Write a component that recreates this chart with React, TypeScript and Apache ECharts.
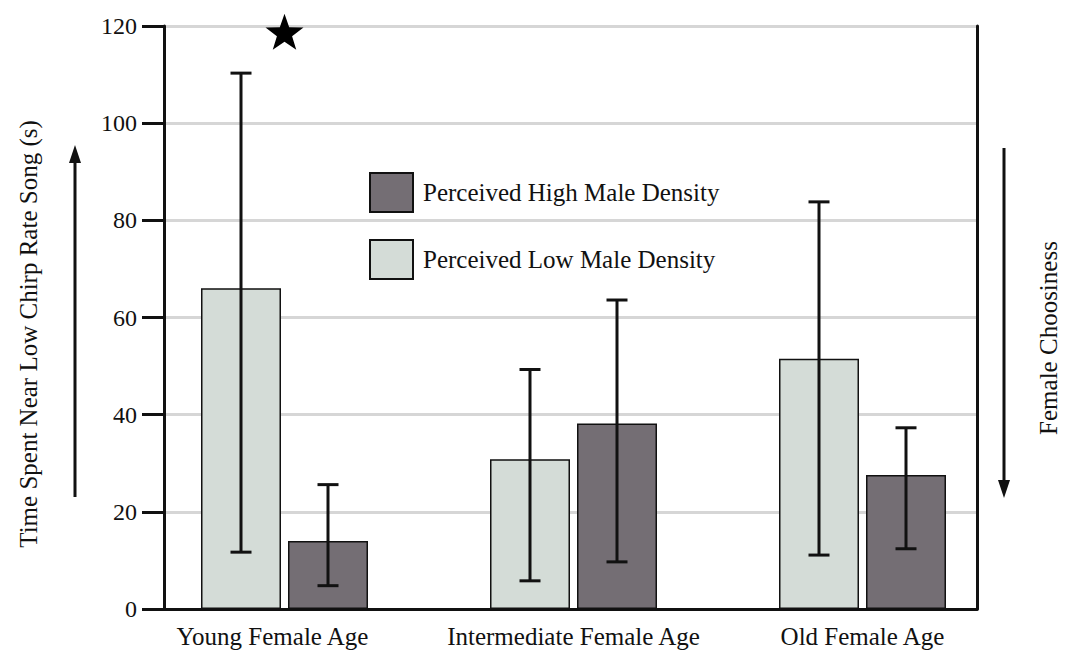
import React, { useEffect, useRef } from "react";
import * as echarts from "echarts";

const categories = ["Young Female Age", "Intermediate Female Age", "Old Female Age"];
const lowDensity = [66, 30.8, 51.5];
const highDensity = [14, 38.2, 27.6];
const lowErr = [[11.7, 110.3], [5.8, 49.3], [11.1, 83.8]];
const highErr = [[4.8, 25.6], [9.7, 63.6], [12.4, 37.3]];
const starMarks = [["Young Female Age", 118.8]];
const yTicks = [0, 20, 40, 60, 80, 100, 120];

const FONT = "'Liberation Serif', 'Times New Roman', serif";
const LIGHT = "#d4dcd7";
const DARK = "#746e74";
const STAR = "path://M0,-10 L2.35,-3.24 9.51,-3.09 3.8,1.24 5.88,8.09 0,4 -5.88,8.09 -3.8,1.24 -9.51,-3.09 -2.35,-3.24Z";

export default function App() {
  const ref = useRef<HTMLDivElement>(null);
  useEffect(() => {
    const chart = echarts.init(ref.current!, null, { renderer: "svg" });
    const BAR_W = 80;
    const GAP = 7;
    const errSeries = (name: string, errs: number[][], side: number) => ({
      type: "custom",
      name: name + " err",
      xAxisIndex: 1,
      yAxisIndex: 2,
      z: 5,
      data: errs.map((e, i) => [i, e[0], e[1]]),
      renderItem: (params: any, api: any) => {
        const idx = api.value(0);
        const lo = api.coord([idx, api.value(1)]);
        const hi = api.coord([idx, api.value(2)]);
        const x = lo[0] + side * (BAR_W + GAP) / 2;
        const cap = 10.5;
        const st = { stroke: "#111", lineWidth: 3 };
        return {
          type: "group",
          children: [
            { type: "line", shape: { x1: x, y1: lo[1], x2: x, y2: hi[1] }, style: st },
            { type: "line", shape: { x1: x - cap, y1: lo[1], x2: x + cap, y2: lo[1] }, style: st },
            { type: "line", shape: { x1: x - cap, y1: hi[1], x2: x + cap, y2: hi[1] }, style: st },
          ],
        };
      },
    });
    chart.setOption({
      animation: false,
      backgroundColor: "#fff",
      grid: [
        { left: 164, right: 88, top: 26, bottom: 45 },
        { left: 140, right: 58, top: 26, bottom: 45 },
      ],
      legend: {
        orient: "vertical",
        left: 369,
        top: 172,
        padding: 0,
        itemWidth: 43,
        itemHeight: 39,
        itemGap: 26,
        icon: "rect",
        data: ["Perceived High Male Density", "Perceived Low Male Density"],
        textStyle: { fontFamily: FONT, fontSize: 25, color: "#111", padding: [0, 0, 0, 5] },
      },
      xAxis: [
        {
          type: "category",
          gridIndex: 0,
          data: categories,
          axisLine: { show: true, lineStyle: { color: "#111", width: 3 } },
          axisTick: { show: false },
          axisLabel: { show: false },
          splitLine: { show: false },
        },
        {
          type: "category",
          gridIndex: 1,
          data: [
            { value: categories[0], textStyle: { padding: [0, 24, 0, 0] } },
            categories[1],
            categories[2],
          ],
          axisLine: { show: false },
          axisTick: { show: false },
          axisLabel: { fontFamily: FONT, fontSize: 25, color: "#111", margin: 15, interval: 0 },
        },
      ],
      yAxis: [
        {
          type: "value",
          gridIndex: 0,
          min: 0,
          max: 120,
          interval: 20,
          axisLine: { show: true, lineStyle: { color: "#111", width: 3 } },
          axisTick: { show: true, inside: false, length: 22, lineStyle: { color: "#111", width: 3 } },
          axisLabel: {
            fontFamily: FONT,
            fontSize: 24,
            color: "#111",
            margin: 27,
            formatter: (v: number) => (yTicks.includes(v) ? String(v) : ""),
          },
          splitLine: { show: true, lineStyle: { color: "#d6d6d6", width: 3 } },
        },
        {
          type: "value",
          gridIndex: 0,
          position: "right",
          min: 0,
          max: 120,
          interval: 20,
          axisLine: { show: true, lineStyle: { color: "#111", width: 3 } },
          axisTick: { show: false },
          axisLabel: { show: false },
          splitLine: { show: false },
        },
        {
          type: "value",
          gridIndex: 1,
          min: 0,
          max: 120,
          show: false,
        },
      ],
      series: [
        {
          name: "Perceived Low Male Density",
          type: "bar",
          xAxisIndex: 1,
          yAxisIndex: 2,
          data: lowDensity,
          barWidth: BAR_W,
          barGap: (GAP / BAR_W) * 100 + "%",
          itemStyle: { color: LIGHT, borderColor: "#111", borderWidth: 1.5 },
        },
        {
          name: "Perceived High Male Density",
          type: "bar",
          xAxisIndex: 1,
          yAxisIndex: 2,
          data: highDensity,
          barWidth: BAR_W,
          barGap: (GAP / BAR_W) * 100 + "%",
          itemStyle: { color: DARK, borderColor: "#111", borderWidth: 1.5 },
        },
        errSeries("low", lowErr, -1),
        errSeries("high", highErr, 1),
        {
          type: "scatter",
          name: "significance",
          xAxisIndex: 1,
          yAxisIndex: 2,
          symbol: STAR,
          symbolSize: [38, 36],
          itemStyle: { color: "#000", opacity: 1 },
          data: starMarks,
          z: 6,
        },
      ],
      graphic: [
        {
          type: "text",
          x: 28,
          y: 334,
          rotation: Math.PI / 2,
          style: {
            text: "Time Spent Near Low Chirp Rate Song (s)",
            fontFamily: FONT,
            fontSize: 25,
            fill: "#111",
            align: "center",
            verticalAlign: "middle",
          },
        },
        {
          type: "text",
          x: 1048,
          y: 338,
          rotation: Math.PI / 2,
          style: {
            text: "Female Choosiness",
            fontFamily: FONT,
            fontSize: 25,
            fill: "#111",
            align: "center",
            verticalAlign: "middle",
          },
        },
        { type: "line", shape: { x1: 75, y1: 497, x2: 75, y2: 160 }, style: { stroke: "#111", lineWidth: 3 } },
        { type: "polygon", shape: { points: [[75, 145], [69, 163], [81, 163]] }, style: { fill: "#111" } },
        { type: "line", shape: { x1: 1004, y1: 148, x2: 1004, y2: 483 }, style: { stroke: "#111", lineWidth: 3 } },
        { type: "polygon", shape: { points: [[1004, 498], [998, 480], [1010, 480]] }, style: { fill: "#111" } },
      ],
    });
    return () => chart.dispose();
  }, []);
  return <div ref={ref} style={{ width: 1065, height: 654, position: "absolute", left: 0, top: 0 }} />;
}
